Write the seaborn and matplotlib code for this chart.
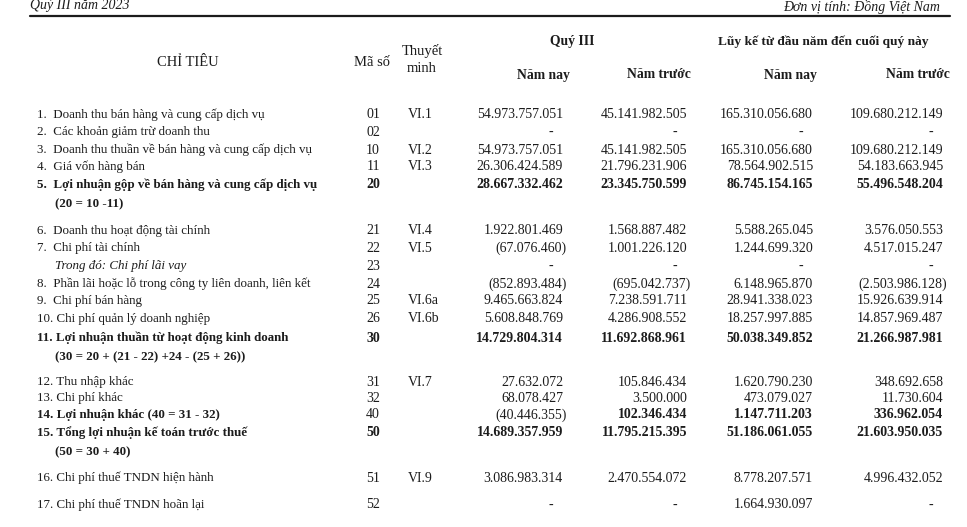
import matplotlib
matplotlib.use("Agg")
import matplotlib.pyplot as plt
import seaborn as sns

# -------------------------------
# Data
# -------------------------------
labels = [
    "1.  Doanh thu bán hàng và cung cấp dịch vụ",
    "2.  Các khoản giảm trừ doanh thu",
    "3.  Doanh thu thuần về bán hàng và cung cấp dịch vụ",
    "4.  Giá vốn hàng bán",
    "5.  Lợi nhuận gộp về bán hàng và cung cấp dịch vụ",
    "6.  Doanh thu hoạt động tài chính",
    "7.  Chi phí tài chính",
    "Trong đó: Chi phí lãi vay",
    "8.  Phần lãi hoặc lỗ trong công ty liên doanh, liên kết",
    "9.  Chi phí bán hàng",
    "10. Chi phí quản lý doanh nghiệp",
    "11. Lợi nhuận thuần từ hoạt động kinh doanh",
    "12. Thu nhập khác",
    "13. Chi phí khác",
    "14. Lợi nhuận khác (40 = 31 - 32)",
    "15. Tổng lợi nhuận kế toán trước thuế",
    "16. Chi phí thuế TNDN hiện hành",
    "17. Chi phí thuế TNDN hoãn lại",
]
formulas = [None, None, None, None, "(20 = 10 -11)", None, None, None, None, None, None,
            "(30 = 20 + (21 - 22) +24 - (25 + 26))", None, None, None, "(50 = 30 + 40)", None, None]
codes = ["01", "02", "10", "11", "20", "21", "22", "23", "24", "25", "26", "30",
         "31", "32", "40", "50", "51", "52"]
notes = ["VI.1", "", "VI.2", "VI.3", "", "VI.4", "VI.5", "", "", "VI.6a", "VI.6b", "",
         "VI.7", "", "", "", "VI.9", ""]
q3_this = ["54.973.757.051", "-", "54.973.757.051", "26.306.424.589", "28.667.332.462",
           "1.922.801.469", "(67.076.460)", "-", "(852.893.484)", "9.465.663.824",
           "5.608.848.769", "14.729.804.314", "27.632.072", "68.078.427", "(40.446.355)",
           "14.689.357.959", "3.086.983.314", "-"]
q3_last = ["45.141.982.505", "-", "45.141.982.505", "21.796.231.906", "23.345.750.599",
           "1.568.887.482", "1.001.226.120", "-", "(695.042.737)", "7.238.591.711",
           "4.286.908.552", "11.692.868.961", "105.846.434", "3.500.000", "102.346.434",
           "11.795.215.395", "2.470.554.072", "-"]
ytd_this = ["165.310.056.680", "-", "165.310.056.680", "78.564.902.515", "86.745.154.165",
            "5.588.265.045", "1.244.699.320", "-", "6.148.965.870", "28.941.338.023",
            "18.257.997.885", "50.038.349.852", "1.620.790.230", "473.079.027", "1.147.711.203",
            "51.186.061.055", "8.778.207.571", "1.664.930.097"]
ytd_last = ["109.680.212.149", "-", "109.680.212.149", "54.183.663.945", "55.496.548.204",
            "3.576.050.553", "4.517.015.247", "-", "(2.503.986.128)", "15.926.639.914",
            "14.857.969.487", "21.266.987.981", "348.692.658", "11.730.604", "336.962.054",
            "21.603.950.035", "4.996.432.052", "-"]
bold_rows = [4, 11, 14, 15]
italic_rows = [7]

# -------------------------------
# Layout (pixel coordinates)
# -------------------------------
row_y = [115, 132, 150, 167, 185, 231, 248, 266, 284, 301, 319, 338,
         382, 398, 415, 433, 478, 505]
col_right = [563, 687, 813, 943]
ink = "#1c1c1c"
fs = 10
fs_lab = 9.4

sns.set_theme(style="white")
plt.rcParams['font.family'] = ['Liberation Serif', 'DejaVu Serif']

fig = plt.figure(figsize=(9.67, 5.27), dpi=100)
ax = fig.add_axes([0, 0, 1, 1])
ax.set_xlim(0, 967)
ax.set_ylim(527, 0)
ax.axis('off')

# page header
ax.text(30, 6, "Quý III năm 2023", style='italic', fontsize=fs, color=ink, va='center')
ax.text(940, 7, "Đơn vị tính: Đồng Việt Nam", style='italic', fontsize=fs, color=ink,
        va='center', ha='right')
ax.plot([30, 950], [16, 16], color=ink, lw=1.6)

# column headers
hdr = dict(color=ink, va='center', ha='center')
ax.text(188, 63, "CHỈ TIÊU", fontsize=10.5, **hdr)
ax.text(372, 62, "Mã số", fontsize=10.5, **hdr)
ax.text(422, 51, "Thuyết", fontsize=10.5, **hdr)
ax.text(422, 68, "minh", fontsize=10.5, **hdr)
ax.text(572, 42, "Quý III", fontsize=9.8, fontweight='bold', **hdr)
ax.text(823, 42, "Lũy kế từ đầu năm đến cuối quý này", fontsize=9.6, fontweight='bold', **hdr)
for x, t in zip([543, 659, 790, 918], ["Năm nay", "Năm trước", "Năm nay", "Năm trước"]):
    ax.text(x, 75, t, fontsize=9.8, fontweight='bold', **hdr)

# body rows
series = [q3_this, q3_last, ytd_this, ytd_last]
for i, lab in enumerate(labels):
    y = row_y[i]
    w = 'bold' if i in bold_rows else 'normal'
    st = 'italic' if i in italic_rows else 'normal'
    lx = 55 if i in italic_rows else 37
    ax.text(lx, y, lab, fontsize=fs_lab, color=ink, va='center', fontweight=w, style=st)
    if formulas[i]:
        ax.text(55, y + 19, formulas[i], fontsize=fs_lab, color=ink, va='center', fontweight=w)
    ax.text(373, y, codes[i], fontsize=fs, color=ink, va='center', ha='center',
            fontweight=w if i != 14 else 'normal')
    if notes[i]:
        ax.text(408, y, notes[i], fontsize=fs, color=ink, va='center')
    for j, vals in enumerate(series):
        v = vals[i]
        vw = w
        if i == 14 and j == 0:
            vw = 'normal'
        if v == "-":
            ax.text(col_right[j] - 12, y, "-", fontsize=fs, color=ink, va='center', ha='center')
        else:
            x = col_right[j] + (4 if v.startswith("(") else 0)
            ax.text(x, y, v, fontsize=fs, color=ink, va='center', ha='right', fontweight=vw)

fig.savefig("out.png", dpi=100)
